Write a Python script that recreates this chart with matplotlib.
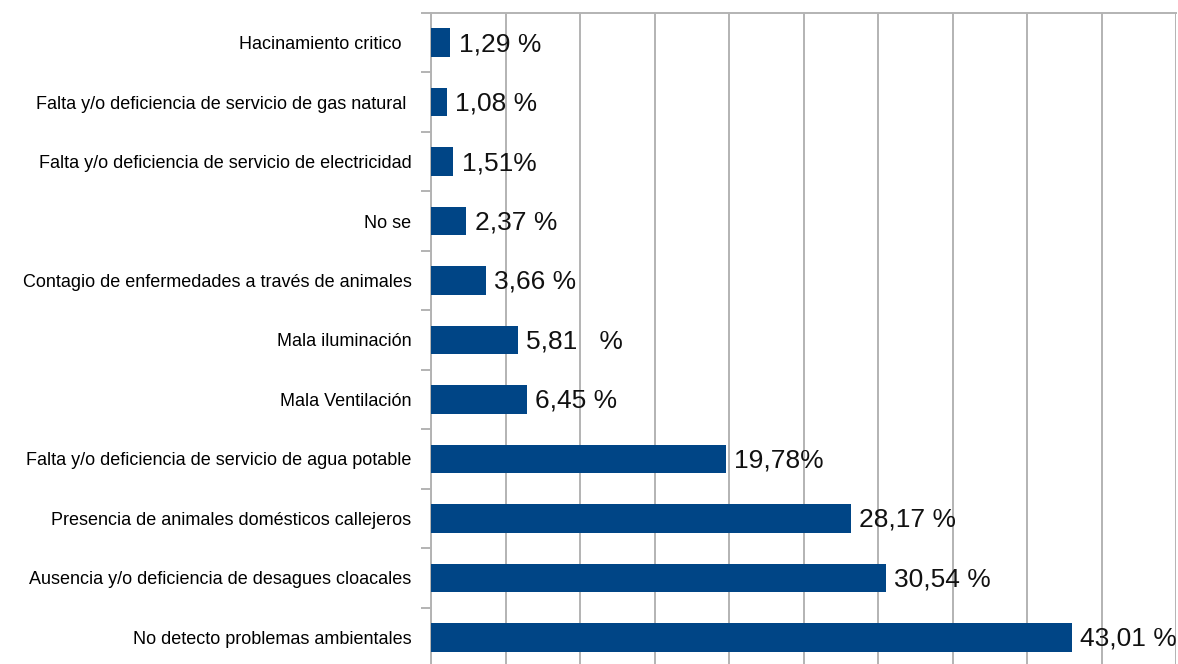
import numpy as np
import matplotlib.pyplot as plt

plt.rcParams['font.family'] = ['Liberation Sans', 'DejaVu Sans']

# categories top to bottom
categories = [
    "Hacinamiento critico  ",
    "Falta y/o deficiencia de servicio de gas natural ",
    "Falta y/o deficiencia de servicio de electricidad",
    "No se",
    "Contagio de enfermedades a través de animales",
    "Mala iluminación",
    "Mala Ventilación",
    "Falta y/o deficiencia de servicio de agua potable",
    "Presencia de animales domésticos callejeros",
    "Ausencia y/o deficiencia de desagues cloacales",
    "No detecto problemas ambientales",
]
values = [1.29, 1.08, 1.51, 2.37, 3.66, 5.81, 6.45, 19.78, 28.17, 30.54, 43.01]
value_labels = ["1,29 %", "1,08 %", "1,51%", "2,37 %", "3,66 %", "5,81   %",
                "6,45 %", "19,78%", "28,17 %", "30,54 %", "43,01 %"]

BAR_COLOR = "#004586"
GRID_COLOR = "#b3b3b3"

fig = plt.figure(figsize=(11.78, 6.64), dpi=100)
ax = fig.add_axes([431 / 1178, 1 - 667 / 664, (1176 - 431) / 1178, (667 - 13) / 664])

y = np.arange(len(categories))
ax.barh(y, values, height=0.48, color=BAR_COLOR, zorder=3)

for yi, v, lab in zip(y, values, value_labels):
    ax.annotate(lab, xy=(v, yi), xytext=(6, -1), textcoords="offset points",
                ha="left", va="center", fontsize=19, color="#111111")

ax.set_xlim(0, 50)
ax.set_ylim(len(categories) - 0.5, -0.5)
ax.set_xticks(np.arange(0, 51, 5))
ax.set_xticklabels([])
ax.tick_params(axis="x", length=0)
ax.xaxis.grid(True, color=GRID_COLOR, linewidth=1.4, zorder=0)

ax.set_yticks(y)
ax.set_yticklabels(categories, fontsize=13)
ax.tick_params(axis="y", which="major", length=0, pad=14)
ax.set_yticks(np.arange(-0.5, len(categories), 1), minor=True)
ax.tick_params(axis="y", which="minor", length=7, width=1.4, color=GRID_COLOR)

for side in ["left", "top"]:
    ax.spines[side].set_color(GRID_COLOR)
    ax.spines[side].set_linewidth(1.4)
for side in ["right", "bottom"]:
    ax.spines[side].set_visible(False)

fig.savefig("out.png", dpi=100)
